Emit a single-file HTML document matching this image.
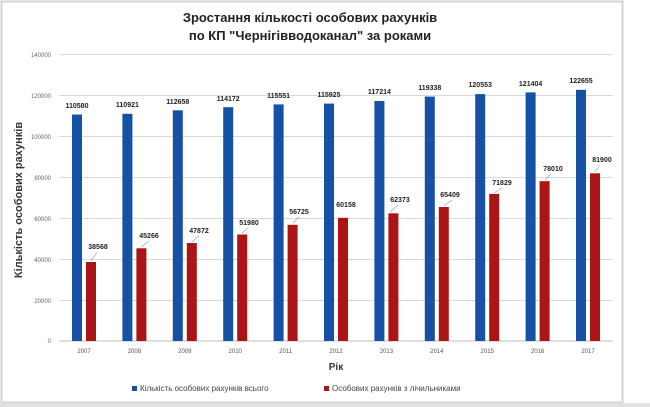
<!DOCTYPE html>
<html><head><meta charset="utf-8"><style>
html,body{margin:0;padding:0;background:#fff;}
svg{display:block;font-family:"Liberation Sans",sans-serif;}
</style></head><body>
<svg width="650" height="407" viewBox="0 0 650 407" xmlns="http://www.w3.org/2000/svg">
<rect x="0" y="0" width="650" height="407" fill="#fff"/>
<rect x="1.5" y="1.5" width="621" height="401" fill="#fff" stroke="#d4d4d4" stroke-width="2"/>
<rect x="0" y="403" width="650" height="4" fill="#e2e2e2"/>
<text x="310" y="22" text-anchor="middle" font-size="13" font-weight="bold" fill="#222">Зростання кількості особових рахунків</text>
<text x="310" y="40" text-anchor="middle" font-size="13" font-weight="bold" fill="#222">по КП "Чернігівводоканал" за роками</text>
<g stroke="#d9d9d9" stroke-width="1">
<line x1="59" x2="613" y1="54.5" y2="54.5"/><line x1="59" x2="613" y1="95.5" y2="95.5"/>
<line x1="59" x2="613" y1="136.5" y2="136.5"/><line x1="59" x2="613" y1="177.5" y2="177.5"/>
<line x1="59" x2="613" y1="218.5" y2="218.5"/><line x1="59" x2="613" y1="259.5" y2="259.5"/>
<line x1="59" x2="613" y1="300.5" y2="300.5"/><line x1="59" x2="613" y1="341" y2="341" stroke="#bfbfbf"/>
</g>
<g font-size="6" fill="#666" text-anchor="end">
<text x="51" y="57">140000</text><text x="51" y="98">120000</text><text x="51" y="139">100000</text>
<text x="51" y="180">80000</text><text x="51" y="221">60000</text><text x="51" y="262">40000</text>
<text x="51" y="303">20000</text><text x="51" y="343">0</text>
</g>
<text transform="translate(22,200) rotate(-90)" text-anchor="middle" font-size="11" font-weight="bold" fill="#333">Кількість особових рахунків</text>
<g fill="#1651a5">
<rect x="72" y="114.5" width="10" height="226.5"/><rect x="122.4" y="113.8" width="10" height="227.2"/>
<rect x="172.8" y="110.3" width="10" height="230.7"/><rect x="223.2" y="107.2" width="10" height="233.8"/>
<rect x="273.6" y="104.4" width="10" height="236.6"/><rect x="324" y="103.6" width="10" height="237.4"/>
<rect x="374.4" y="101" width="10" height="240"/><rect x="424.8" y="96.6" width="10" height="244.4"/>
<rect x="475.2" y="94.1" width="10" height="246.9"/><rect x="525.6" y="92.4" width="10" height="248.6"/>
<rect x="576" y="89.8" width="10" height="251.2"/>
</g>
<g fill="#ab1515">
<rect x="86" y="262" width="10" height="79"/><rect x="136.4" y="248.3" width="10" height="92.7"/>
<rect x="186.8" y="243" width="10" height="98"/><rect x="237.2" y="234.5" width="10" height="106.5"/>
<rect x="287.6" y="224.8" width="10" height="116.2"/><rect x="338" y="217.8" width="10" height="123.2"/>
<rect x="388.4" y="213.3" width="10" height="127.7"/><rect x="438.8" y="207" width="10" height="134"/>
<rect x="489.2" y="193.9" width="10" height="147.1"/><rect x="539.6" y="181.2" width="10" height="159.8"/>
<rect x="590" y="173.3" width="10" height="167.7"/>
</g>
<g font-size="7" font-weight="bold" fill="#222" text-anchor="middle">
<text x="77" y="108">110580</text><text x="127.4" y="107">110921</text><text x="177.8" y="104">112658</text>
<text x="228.2" y="101">114172</text><text x="278.6" y="98">115551</text><text x="329" y="97">115925</text>
<text x="379.4" y="94">117214</text><text x="429.8" y="90">119338</text><text x="480.2" y="87">120553</text>
<text x="530.6" y="86">121404</text><text x="581" y="83">122655</text>
<text x="98" y="249">38568</text><text x="149" y="238">45266</text><text x="199" y="233">47872</text>
<text x="249" y="225">51980</text><text x="299" y="214">56725</text><text x="346" y="207">60158</text>
<text x="400" y="202">62373</text><text x="450" y="197">65409</text><text x="502" y="185">71829</text>
<text x="553" y="171">78010</text><text x="602" y="162">81900</text>
</g>
<g stroke="#999" stroke-width="0.6">
<line x1="91" y1="261" x2="97" y2="252"/><line x1="141" y1="247" x2="149" y2="241"/>
<line x1="192" y1="242" x2="199" y2="236"/><line x1="242" y1="233" x2="248" y2="228"/>
<line x1="293" y1="223" x2="299" y2="217"/><line x1="390" y1="212" x2="398" y2="205"/>
<line x1="444" y1="206" x2="452" y2="200"/><line x1="494" y1="193" x2="502" y2="188"/>
<line x1="545" y1="180" x2="551" y2="174"/><line x1="595" y1="172" x2="600" y2="165"/>
</g>
<g font-size="6" fill="#555" text-anchor="middle">
<text x="84" y="353">2007</text><text x="134.4" y="353">2008</text><text x="184.8" y="353">2009</text>
<text x="235.2" y="353">2010</text><text x="285.6" y="353">2011</text><text x="336" y="353">2012</text>
<text x="386.4" y="353">2013</text><text x="436.8" y="353">2014</text><text x="487.2" y="353">2015</text>
<text x="537.6" y="353">2016</text><text x="588" y="353">2017</text>
</g>
<text x="336" y="370" text-anchor="middle" font-size="10" font-weight="bold" fill="#333">Рік</text>
<rect x="132" y="386" width="5" height="5" fill="#1651a5"/>
<text x="140" y="391" font-size="8" fill="#444">Кількість особових рахунків всього</text>
<rect x="324" y="386" width="5" height="5" fill="#ab1515"/>
<text x="332" y="391" font-size="8" fill="#444">Особових рахунків з лічильниками</text>
</svg>
</body></html>
